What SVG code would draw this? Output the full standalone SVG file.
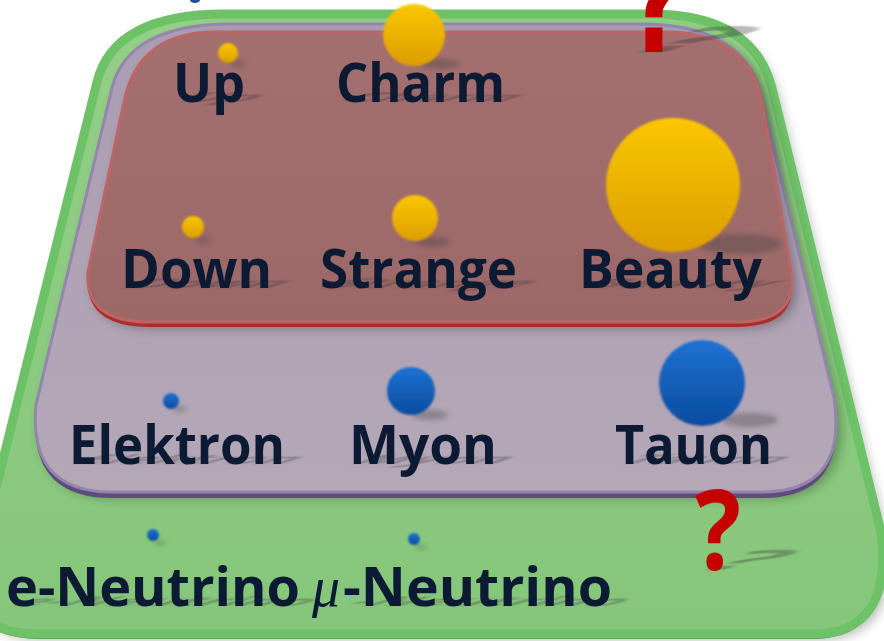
<svg xmlns="http://www.w3.org/2000/svg" width="884" height="641" viewBox="0 0 884 641">
  <defs>
    <style>
      .lbl { font-family: "Open Sans", "Noto Sans", "DejaVu Sans", sans-serif; font-weight: 700; font-size: 53px; fill: #0c1a33; }
      .q { font-family: "Open Sans", "Noto Sans", sans-serif; font-weight: 700; font-size: 112px; fill: #c40000; }
      .qt { font-family: "DejaVu Sans", "Open Sans", sans-serif; font-weight: 700; font-size: 140px; fill: #c40000; }
      .mu { font-family: "Liberation Serif", "DejaVu Serif", serif; font-style: italic; font-size: 56px; fill: #0c1a33; }
      .gold { fill: url(#gold); filter: url(#edge); }
      .blue { fill: url(#blue); filter: url(#edge); }
      .psh { fill: #404040; opacity: 0.35; filter: url(#soft); }
      /* cast shadows of labels: listed last so the grey fill wins */
      .sh { fill: #303030; opacity: 0.33; filter: url(#soft); }
    </style>
    <filter id="edge" x="-20%" y="-20%" width="140%" height="140%">
      <feGaussianBlur stdDeviation="1.1"/>
    </filter>
    <filter id="soft" x="-30%" y="-100%" width="160%" height="300%">
      <feGaussianBlur stdDeviation="2.5"/>
    </filter>
    <filter id="drop" x="-10%" y="-10%" width="120%" height="125%">
      <feGaussianBlur stdDeviation="6"/>
    </filter>
    <linearGradient id="gold" x1="0" y1="0" x2="0" y2="1">
      <stop offset="0" stop-color="#fac700"/>
      <stop offset="1" stop-color="#dc9d00"/>
    </linearGradient>
    <linearGradient id="blue" x1="0" y1="0" x2="0" y2="1">
      <stop offset="0" stop-color="#1d72d3"/>
      <stop offset="1" stop-color="#0c4c9f"/>
    </linearGradient>
    <linearGradient id="greenFace" x1="0" y1="0" x2="0" y2="1">
      <stop offset="0" stop-color="#93cf86"/>
      <stop offset="1" stop-color="#86c67b"/>
    </linearGradient>
    <linearGradient id="purpleFace" x1="0" y1="0" x2="0" y2="1">
      <stop offset="0" stop-color="#aa9db3"/>
      <stop offset="1" stop-color="#b4a7b6"/>
    </linearGradient>
    <linearGradient id="redFace" x1="0" y1="0" x2="0" y2="1">
      <stop offset="0" stop-color="#a36f6f"/>
      <stop offset="1" stop-color="#9c6868"/>
    </linearGradient>
    <!-- rounded trapezoid outlines of the three tiers -->
    <path id="tierGreen" d="M 225,14 L 650,14 Q 753,14 772,88 L 881,532 Q 894,634 812,634 L 40,634 Q -42,634 -22,560 L 97,82 Q 114,14 225,14 Z"/>
    <path id="tierPurple" d="M 232,24 L 640,24 Q 742,24 760,92 L 834,398 Q 848,492 762,492 L 112,492 Q 28,492 36,405 L 112,88 Q 128,24 232,24 Z"/>
    <path id="tierRed" d="M 216,32 L 664,32 Q 748,32 762,102 L 791,272 Q 799,322 736,322 L 150,322 Q 84,322 88,272 L 124,102 Q 138,32 216,32 Z"/>
  </defs>

  <rect width="884" height="641" fill="#ffffff"/>

  <!-- fragment of a descender peeking in at the top edge -->
  <ellipse cx="195" cy="0" rx="5" ry="3" fill="#1f4e99"/>

  <!-- neutrino tier -->
  <g id="tier-neutrinos">
    <use href="#tierGreen" fill="#000" opacity="0.28" filter="url(#drop)" transform="translate(6,6)"/>
    <use href="#tierGreen" fill="#4e8d50" transform="translate(0,5)"/>
    <use href="#tierGreen" fill="url(#greenFace)" stroke="#6dc167" stroke-width="9"/>
  </g>

  <!-- charged lepton tier -->
  <g id="tier-leptons">
    <use href="#tierPurple" fill="#000" opacity="0.3" filter="url(#drop)" transform="translate(5,6)"/>
    <use href="#tierPurple" fill="#5e4c7c" transform="translate(0,6)"/>
    <use href="#tierPurple" fill="url(#purpleFace)" stroke="#9585ae" stroke-width="3"/>
  </g>

  <!-- quark tier -->
  <g id="tier-quarks">
    <use href="#tierRed" fill="#000" opacity="0.3" filter="url(#drop)" transform="translate(5,6)"/>
    <use href="#tierRed" fill="#ad2c2c" transform="translate(0,5)"/>
    <use href="#tierRed" fill="url(#redFace)" stroke="#bd6464" stroke-width="3"/>
  </g>

  <!-- quarks -->
  <g id="up">
    <ellipse class="psh" cx="238" cy="64" rx="8" ry="3"/>
    <circle class="gold" cx="228" cy="53" r="10"/>
    <text class="lbl sh" transform="translate(0,102) matrix(1,0,-0.8,0.25,0,0)" x="173" y="0" textLength="72" lengthAdjust="spacingAndGlyphs">Up</text>
    <text class="lbl" x="173" y="102" textLength="72" lengthAdjust="spacingAndGlyphs">Up</text>
  </g>
  <g id="charm">
    <ellipse class="psh" cx="440" cy="64" rx="20" ry="5"/>
    <circle class="gold" cx="414" cy="35" r="31"/>
    <text class="lbl sh" transform="translate(0,102) matrix(1,0,-0.8,0.25,0,0)" x="336" y="0" textLength="169" lengthAdjust="spacingAndGlyphs">Charm</text>
    <text class="lbl" x="336" y="102" textLength="169" lengthAdjust="spacingAndGlyphs">Charm</text>
  </g>
  <g id="down">
    <ellipse class="psh" cx="203" cy="240" rx="8" ry="3"/>
    <circle class="gold" cx="193" cy="227" r="11"/>
    <text class="lbl sh" transform="translate(0,288) matrix(1,0,-0.8,0.25,0,0)" x="121" y="0" textLength="151" lengthAdjust="spacingAndGlyphs">Down</text>
    <text class="lbl" x="121" y="288" textLength="151" lengthAdjust="spacingAndGlyphs">Down</text>
  </g>
  <g id="strange">
    <ellipse class="psh" cx="433" cy="242" rx="17" ry="5"/>
    <circle class="gold" cx="415" cy="218" r="23"/>
    <text class="lbl sh" transform="translate(0,288) matrix(1,0,-0.8,0.25,0,0)" x="320" y="0" textLength="197" lengthAdjust="spacingAndGlyphs">Strange</text>
    <text class="lbl" x="320" y="288" textLength="197" lengthAdjust="spacingAndGlyphs">Strange</text>
  </g>
  <g id="beauty">
    <ellipse class="psh" cx="740" cy="244" rx="42" ry="10"/>
    <circle class="gold" cx="673" cy="185" r="67"/>
    <text class="lbl sh" transform="translate(0,288) matrix(1,0,-0.8,0.25,0,0)" x="579" y="0" textLength="183" lengthAdjust="spacingAndGlyphs">Beauty</text>
    <text class="lbl" x="579" y="288" textLength="183" lengthAdjust="spacingAndGlyphs">Beauty</text>
  </g>

  <!-- charged leptons -->
  <g id="elektron">
    <ellipse class="psh" cx="180" cy="409" rx="7" ry="2.5"/>
    <circle class="blue" cx="171" cy="401" r="8"/>
    <text class="lbl sh" transform="translate(0,464) matrix(1,0,-0.8,0.25,0,0)" x="69" y="0" textLength="216" lengthAdjust="spacingAndGlyphs">Elektron</text>
    <text class="lbl" x="69" y="464" textLength="216" lengthAdjust="spacingAndGlyphs">Elektron</text>
  </g>
  <g id="myon">
    <ellipse class="psh" cx="430" cy="415" rx="18" ry="5"/>
    <circle class="blue" cx="411" cy="391" r="24"/>
    <text class="lbl sh" transform="translate(0,464) matrix(1,0,-0.8,0.25,0,0)" x="349" y="0" textLength="148" lengthAdjust="spacingAndGlyphs">Myon</text>
    <text class="lbl" x="349" y="464" textLength="148" lengthAdjust="spacingAndGlyphs">Myon</text>
  </g>
  <g id="tauon">
    <ellipse class="psh" cx="750" cy="420" rx="28" ry="7"/>
    <circle class="blue" cx="702" cy="383" r="43"/>
    <text class="lbl sh" transform="translate(0,464) matrix(1,0,-0.8,0.25,0,0)" x="615" y="0" textLength="157" lengthAdjust="spacingAndGlyphs">Tauon</text>
    <text class="lbl" x="615" y="464" textLength="157" lengthAdjust="spacingAndGlyphs">Tauon</text>
  </g>

  <!-- neutrinos -->
  <g id="e-neutrino">
    <ellipse class="psh" cx="160" cy="543" rx="6" ry="2"/>
    <circle class="blue" cx="153" cy="535" r="6"/>
    <text class="lbl sh" transform="translate(0,606) matrix(1,0,-0.8,0.25,0,0)" x="6" y="0" textLength="294" lengthAdjust="spacingAndGlyphs">e-Neutrino</text>
    <text class="lbl" x="6" y="606" textLength="294" lengthAdjust="spacingAndGlyphs">e-Neutrino</text>
  </g>
  <g id="mu-neutrino">
    <ellipse class="psh" cx="421" cy="547" rx="6" ry="2"/>
    <circle class="blue" cx="414" cy="539" r="6"/>
    <text class="lbl sh" transform="translate(0,606) matrix(1,0,-0.8,0.25,0,0)" x="343" y="0" textLength="269" lengthAdjust="spacingAndGlyphs">-Neutrino</text>
    <text class="mu" x="312" y="606">μ</text>
    <text class="lbl" x="343" y="606" textLength="269" lengthAdjust="spacingAndGlyphs">-Neutrino</text>
  </g>

  <!-- open questions -->
  <g id="question-top">
    <text class="qt sh" transform="translate(0,52) matrix(1,0,-0.8,0.25,0,0)" x="657" y="0" text-anchor="middle">?</text>
    <text class="qt" x="657" y="52" text-anchor="middle" textLength="56" lengthAdjust="spacingAndGlyphs">?</text>
  </g>
  <g id="question-bottom">
    <text class="q sh" transform="translate(0,570) matrix(1,0,-0.8,0.25,0,0)" x="718" y="0" text-anchor="middle">?</text>
    <text class="q" x="718" y="570" text-anchor="middle" textLength="46" lengthAdjust="spacingAndGlyphs">?</text>
  </g>

  <g id="connectors"/>
</svg>
